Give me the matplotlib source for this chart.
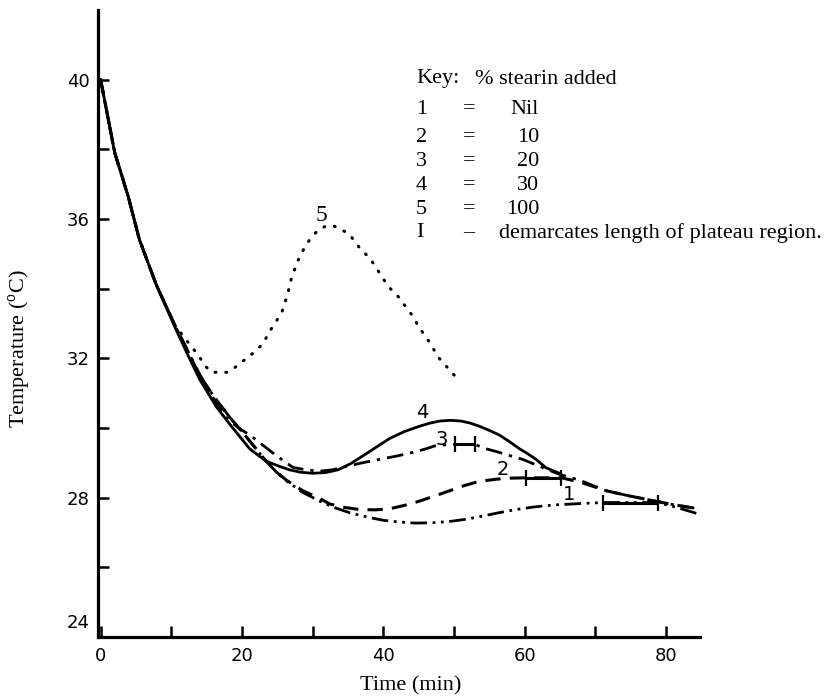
import matplotlib
matplotlib.use("Agg")
import matplotlib.pyplot as plt
from matplotlib.ticker import FixedLocator
from matplotlib.transforms import ScaledTranslation

# Cooling curves: temperature (deg C) against time (min) for each stearin level
t_nil = [0, 2, 3.9, 5.5, 7.9, 10.5, 12.1, 14, 16.4, 18.5, 20, 21.8, 23.4, 24.8, 26.3,
         28.6, 31, 33, 35.2, 38, 40, 42.3, 44.5, 47, 49.5, 51.7, 54, 56.4, 58.8, 61.2,
         63, 64.9, 67.8, 71.1, 75, 78.8, 81.5, 84.3]
T_nil = [40, 37.9, 36.65, 35.4, 34.1, 32.95, 32.3, 31.5, 30.8, 30.25, 29.9, 29.45, 29.05,
         28.75, 28.48, 28.15, 27.9, 27.72, 27.57, 27.43, 27.35, 27.3, 27.27, 27.28, 27.32,
         27.38, 27.47, 27.57, 27.66, 27.73, 27.77, 27.8, 27.83, 27.86, 27.86, 27.86, 27.72,
         27.55]

t_10 = [0, 2, 3.9, 5.5, 7.9, 10.5, 12.1, 14, 16.4, 18.5, 20, 21.8, 23.4, 24.8, 26.3, 28.6,
        31, 32.4, 34.5, 36.6, 38.8, 40.9, 43, 45.1, 47.3, 49.4, 51.5, 53.6, 56, 58, 60.2,
        62.7, 65.2, 67.8, 71.5, 74.8, 78, 81, 84]
T_10 = [40, 37.9, 36.65, 35.4, 34.1, 32.95, 32.3, 31.5, 30.8, 30.25, 29.9, 29.45, 29.05,
        28.75, 28.5, 28.2, 27.98, 27.82, 27.72, 27.66, 27.65, 27.68, 27.78, 27.9, 28.05,
        28.2, 28.35, 28.47, 28.53, 28.56, 28.57, 28.57, 28.57, 28.45, 28.2, 28.05, 27.92,
        27.8, 27.7]

t_20 = [0, 2, 3.9, 5.5, 7.9, 10.5, 12.1, 14, 16, 17.8, 19.5, 21.1, 23, 24.9, 27.2, 29, 31,
        32.8, 34.8, 37, 39.5, 42, 44.2, 46, 47.5, 50.1, 52.9, 54.6, 56.4, 58, 59.7, 62.1,
        64.9, 67.8, 71.5, 74.8, 78, 81, 84]
T_20 = [40, 37.9, 36.65, 35.4, 34.1, 32.95, 32.3, 31.55, 30.85, 30.3, 30.0, 29.8, 29.5,
        29.2, 28.87, 28.8, 28.76, 28.8, 28.9, 29.0, 29.1, 29.2, 29.3, 29.4, 29.5, 29.53,
        29.53, 29.4, 29.3, 29.2, 29.1, 28.9, 28.67, 28.5, 28.2, 28.05, 27.92, 27.8, 27.7]

t_30 = [0, 2, 3.9, 5.5, 7.9, 10.5, 12.1, 14, 16.4, 18.7, 21.1, 23.4, 25.3, 26.7, 28.3, 30,
        31.8, 33.6, 35.4, 37.1, 39, 40.9, 43, 45.1, 46.6, 48, 49.5, 51, 52.3, 53.6, 55,
        56.4, 57.9, 59.3, 60.5, 61.6, 63, 64.9]
T_30 = [40, 37.9, 36.65, 35.4, 34.1, 32.9, 32.2, 31.4, 30.6, 30.0, 29.4, 29.05, 28.9, 28.8,
        28.73, 28.7, 28.72, 28.8, 28.98, 29.2, 29.45, 29.7, 29.9, 30.05, 30.14, 30.2,
        30.22, 30.2, 30.14, 30.05, 29.93, 29.8, 29.6, 29.4, 29.25, 29.1, 28.86, 28.7]

t_100 = [0, 2, 3.9, 5.5, 7.9, 10.5, 12.6, 13.8, 14.7, 15.7, 16.7, 17.9, 18.8, 19.9, 20.8,
         21.8, 22.9, 24.0, 25.6, 26.4, 27.0, 27.9, 28.9, 29.9, 30.9, 31.9, 33.0, 33.9,
         35.0, 35.8, 36.9, 38.0, 39.0, 39.9, 41.0, 42.0, 43.1, 44.2, 45.0, 46.1, 47.9, 50.1]
T_100 = [40, 37.9, 36.65, 35.4, 34.1, 32.95, 32.4, 32.1, 31.8, 31.6, 31.6, 31.6, 31.7, 31.9,
         32.0, 32.2, 32.4, 32.8, 33.3, 33.8, 34.3, 34.8, 35.2, 35.5, 35.7, 35.8, 35.8, 35.7,
         35.6, 35.4, 35.1, 34.9, 34.6, 34.3, 34.0, 33.8, 33.5, 33.2, 32.9, 32.6, 32.0, 31.5]

# Plateau regions: (start, end, temperature)
plateau_20 = (50.1, 52.9, 29.53)
plateau_10 = (60.2, 65.2, 28.57)
plateau_nil = (71.1, 78.8, 27.86)

# Curve number labels: (text, time, temperature)
curve_labels = [("5", 31.3, 36.1), ("4", 45.5, 30.45), ("3", 48.2, 29.67),
                ("2", 56.9, 28.8), ("1", 66.3, 28.1)]

x_major = [0, 20, 40, 60, 80]
x_minor = [10, 30, 50, 70]
y_major = [28, 32, 36, 40]
y_minor = [26, 30, 34, 38]
y_bottom_label = 24

key_rows = [("1", "=", "Nil"), ("2", "=", "10"), ("3", "=", "20"),
            ("4", "=", "30"), ("5", "=", "100")]

W, H = 840, 699
fig = plt.figure(figsize=(W / 100, H / 100), dpi=100)
plt.rcParams["mathtext.fontset"] = "custom"
plt.rcParams["mathtext.rm"] = "Liberation Serif"

ax = fig.add_axes([98 / W, 1 - 637 / H, (700 - 98) / W, (637 - 10) / H])
ax.set_xlim(-0.37, 84.8)
ax.set_ylim(24, 42.0)

k = "black"
ax.plot(t_nil, T_nil, color=k, lw=2.0, ls=(0, (6, 2, 1, 2, 1, 2)))
ax.plot(t_10, T_10, color=k, lw=2.2, ls=(0, (5, 3)))
ax.plot(t_20, T_20, color=k, lw=2.0, ls=(0, (6, 2.5, 1.2, 2.5)))
ax.plot(t_30, T_30, color=k, lw=2.0, ls="-")
ax.plot(t_100, T_100, color=k, lw=2.2, ls=(0, (0.3, 3.2)), dash_capstyle="round")

for s, e, y in (plateau_20, plateau_10, plateau_nil):
    ax.plot([s, e], [y, y], color=k, lw=2.2, marker="|", markersize=11,
            markeredgewidth=1.6, solid_capstyle="butt")

for txt, x, y in curve_labels:
    if txt == "5":
        ax.text(x, y, txt, fontsize=17, family="Liberation Serif",
                ha="center", va="center")
    else:
        ax.text(x, y, txt, fontsize=14, family="DejaVu Sans",
                ha="center", va="center")

for side in ("top", "right"):
    ax.spines[side].set_visible(False)
for side in ("left", "bottom"):
    ax.spines[side].set_linewidth(2.3)

ax.xaxis.set_major_locator(FixedLocator(x_major))
ax.xaxis.set_minor_locator(FixedLocator(x_minor))
ax.yaxis.set_major_locator(FixedLocator(y_major))
ax.yaxis.set_minor_locator(FixedLocator(y_minor))
ax.tick_params(which="both", direction="in", length=8, width=1.8, labelsize=13, pad=6)
ax.tick_params(axis="x", which="both", pad=7)

# bottom value on the temperature axis sits just above the time axis
ax.text(0, y_bottom_label, str(y_bottom_label), fontsize=13, family="DejaVu Sans",
        ha="right", va="center",
        transform=ax.get_yaxis_transform() +
        ScaledTranslation(-6 / 72, 14 / 100, fig.dpi_scale_trans))

ax.set_xlabel("Time (min)", family="Liberation Serif", fontsize=16)
ax.xaxis.set_label_coords(0.52, -0.062)
ax.set_ylabel(r"Temperature ($^{\rm o}$C)", family="Liberation Serif", fontsize=16)
ax.yaxis.set_label_coords(-0.108, 0.46)


def fx(px):
    return px / W


def fy(py):
    return 1 - py / H


key_font = dict(family="Liberation Serif", fontsize=16, va="center")
fig.text(fx(416), fy(79), "Key:", ha="left", **key_font)
fig.text(fx(475), fy(79), "% stearin added", ha="left", **key_font)
row_y = [109, 137, 161, 185, 209]
for (num, eq, val), py in zip(key_rows, row_y):
    fig.text(fx(416), fy(py), num, ha="left", **key_font)
    fig.text(fx(469), fy(py), eq, ha="center", **key_font)
    fig.text(fx(539), fy(py), val, ha="right", **key_font)
fig.text(fx(416), fy(233), "I", ha="left", **key_font)
fig.text(fx(469), fy(233), "\u2013", ha="center", **key_font)
fig.text(fx(499), fy(233), "demarcates length of plateau region.", ha="left", **key_font)

fig.savefig("out.png", dpi=100)
